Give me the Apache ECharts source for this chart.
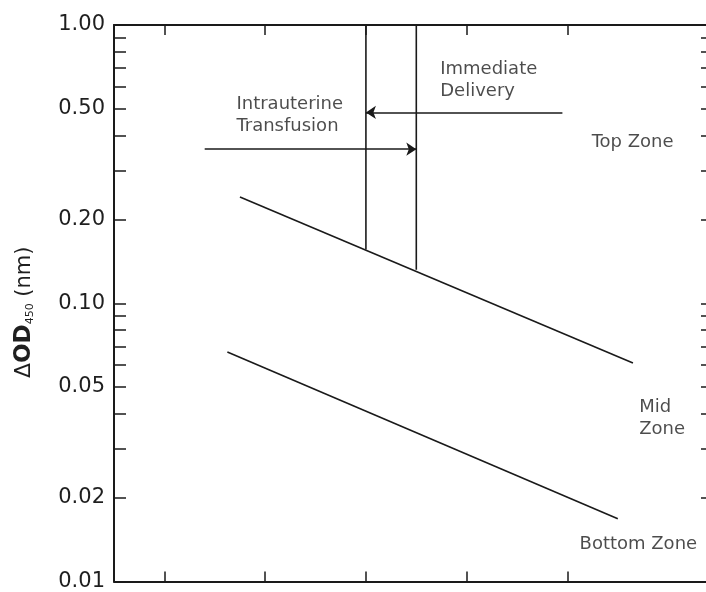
<!DOCTYPE html>
<html lang="en">
<head>
    <meta charset="UTF-8">
    <title>Liley chart</title>
    <style>
        body{ margin: 0; background: #fff; }
        #chart{ width: 706px; height: 592px; }
    </style>
</head>
<body>
    <div id="chart"></div>

    <script src="https://cdn.jsdelivr.net/npm/echarts@6/dist/echarts.min.js"></script>
    <script>
        // gestational weeks on x, delta OD450 on a log y
        var weekTicks = [20, 24, 28, 32, 36];
        var odTicks = [1, 0.9, 0.8, 0.7, 0.6, 0.5, 0.4, 0.3, 0.2, 0.1, 0.09, 0.08, 0.07, 0.06, 0.05, 0.04, 0.03, 0.02, 0.01];
        var odLabels = [1, 0.5, 0.2, 0.1, 0.05, 0.02, 0.01];

        // zone boundaries
        var upperWeeks = [23.0, 38.6];
        var upperOD = [0.241, 0.061];
        var lowerWeeks = [22.5, 38.0];
        var lowerOD = [0.0668, 0.0168];

        // vertical limits
        var limitWeeks = [28, 30];
        var limitTop = [1.0, 1.0];
        var limitBottom = [0.156, 0.132];

        // arrows: start week, end week, OD
        var arrowFrom = [35.8, 21.6];
        var arrowTo = [28, 30];
        var arrowOD = [0.485, 0.358];

        var noteText = ['Intrauterine\nTransfusion', 'Immediate\nDelivery', 'Top Zone', 'Mid\nZone', 'Bottom Zone'];
        var noteWeeks = [22.86, 30.95, 36.96, 38.85, 36.48];
        var noteOD = [0.473, 0.631, 0.379, 0.0387, 0.0136];

        var ink = '#1a1a1a';
        var textInk = '#1f1f1f';
        var font = 'DejaVu Sans';

        function pairs(xs, ys) {
            var out = [];
            for (let i = 0; i < xs.length; i++) out.push([xs[i], ys[i]]);
            return out;
        }

        var series = [
            { type: 'line', data: pairs(upperWeeks, upperOD) },
            { type: 'line', data: pairs(lowerWeeks, lowerOD) }
        ];
        for (let i = 0; i < limitWeeks.length; i++) {
            series.push({ type: 'line', data: [[limitWeeks[i], limitTop[i]], [limitWeeks[i], limitBottom[i]]] });
        }
        series.forEach(function (s) {
            s.symbol = 'none';
            s.silent = true;
            s.lineStyle = { color: ink, width: 1.6 };
        });

        var arrowData = [];
        for (let i = 0; i < arrowFrom.length; i++) {
            arrowData.push({ coords: [[arrowFrom[i], arrowOD[i]], [arrowTo[i], arrowOD[i]]] });
        }
        series.push({
            type: 'lines',
            coordinateSystem: 'cartesian2d',
            symbol: ['none', 'arrow'],
            symbolSize: [6, 10],
            lineStyle: { color: ink, width: 1.5, opacity: 1 },
            data: arrowData,
            silent: true
        });

        var notes = [];
        for (let i = 0; i < noteText.length; i++) notes.push([noteWeeks[i], noteOD[i], noteText[i]]);
        series.push({
            type: 'scatter',
            symbolSize: 0,
            silent: true,
            data: notes,
            label: {
                show: true,
                position: 'inside',
                align: 'left',
                verticalAlign: 'middle',
                color: textInk,
                fontFamily: font,
                fontSize: 18,
                lineHeight: 22,
                formatter: function (p) { return p.data[2]; }
            }
        });

        function xAxis(pos) {
            return {
                type: 'value', position: pos, min: 18, max: 41.5,
                axisLine: { show: true, onZero: false, lineStyle: { color: ink, width: 2 } },
                axisTick: { show: true, inside: true, length: 10, customValues: weekTicks, lineStyle: { color: ink, width: 1.5 } },
                axisLabel: { show: false },
                splitLine: { show: false }
            };
        }

        var option = {
            animation: false,
            grid: { left: 114, top: 25, right: 0, bottom: 3 },
            xAxis: [xAxis('bottom'), xAxis('top')],
            yAxis: [{
                type: 'log', logBase: 10, min: 0.01, max: 1, position: 'left',
                name: '{d|Δ}{b|OD}{s|450}{n| (nm)}',
                nameLocation: 'middle',
                nameGap: 78,
                nameRotate: 90,
                nameTextStyle: {
                    color: textInk,
                    padding: [0, 18, 0, 0],
                    rich: {
                        d: { fontFamily: font, fontSize: 22, color: textInk },
                        b: { fontFamily: font, fontSize: 23, fontWeight: 'bold', color: textInk },
                        s: { fontFamily: font, fontSize: 11, color: textInk, verticalAlign: 'bottom', padding: [8, 0, 0, 0] },
                        n: { fontFamily: font, fontSize: 21, color: textInk }
                    }
                },
                axisLine: { show: true, lineStyle: { color: ink, width: 2 } },
                axisTick: { show: true, inside: true, length: 12, customValues: odTicks, lineStyle: { color: ink, width: 1.5 } },
                axisLabel: {
                    show: true, customValues: odLabels, margin: 9,
                    color: textInk, fontFamily: font, fontSize: 21,
                    formatter: function (v) { return Number(v).toFixed(2); }
                },
                splitLine: { show: false }
            }, {
                type: 'log', logBase: 10, min: 0.01, max: 1, position: 'right',
                axisLine: { show: false },
                axisTick: { show: true, inside: true, length: 5, customValues: odTicks, lineStyle: { color: ink, width: 1.5 } },
                axisLabel: { show: false },
                splitLine: { show: false }
            }],
            series: series
        };

        var myChart = echarts.init(document.getElementById('chart'));
        myChart.setOption(option);
    </script>
</body>
</html>
